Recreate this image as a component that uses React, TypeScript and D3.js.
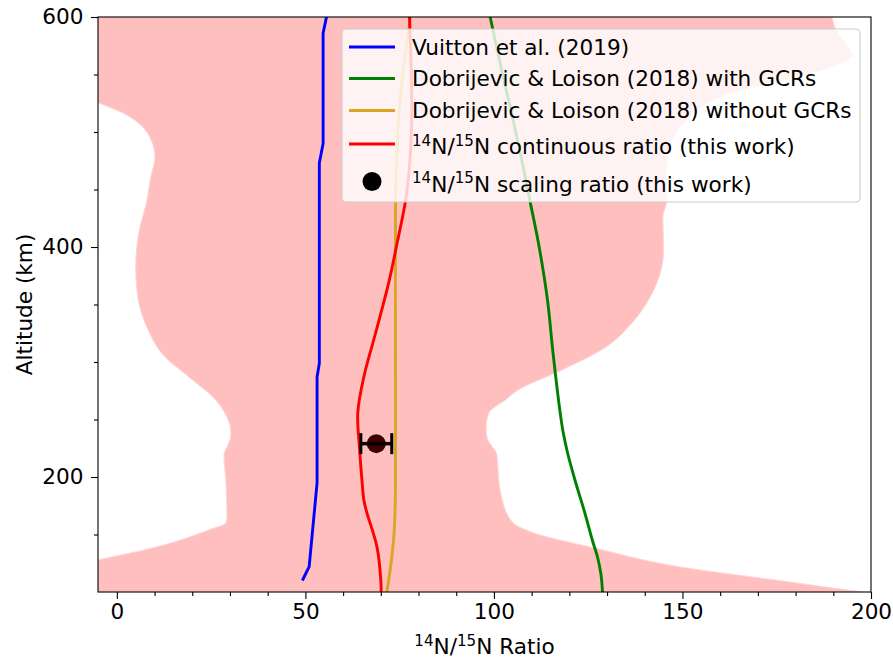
import React, { useEffect, useRef } from "react";
import * as d3 from "d3";

// Vuitton et al. (2019)
const vuittonAlt = [600, 586, 490, 473, 299, 287, 195, 122, 110];
const vuittonRatio = [55.6, 54.7, 54.7, 53.7, 53.7, 53.1, 53.1, 51.0, 49.2];

// Dobrijevic & Loison (2018) with GCRs
const gcrAlt = [600, 550, 516, 480, 441, 400, 354, 310, 284, 260, 240, 220, 195, 170, 145, 130, 115, 100];
const gcrRatio = [99, 102.3, 104.7, 107.1, 109.5, 112, 114.2, 115.6, 116.5, 117.4, 118.3, 119.6, 121.7, 124, 126.1, 127.5, 128.4, 128.8];

// Dobrijevic & Loison (2018) without GCRs
const noGcrAlt = [600, 570, 540, 510, 470, 436, 300, 200, 180, 150, 130, 115, 100];
const noGcrRatio = [77.9, 76.6, 75.5, 74.7, 74.1, 73.9, 73.9, 73.9, 73.85, 73.5, 72.9, 72.3, 71.6];

// continuous ratio (this work)
const contAlt = [600, 550, 510, 470, 441, 403, 369, 325, 287, 256, 223, 197, 180, 169, 139, 110, 100];
const contRatio = [77.6, 78.1, 78.2, 77.6, 76.6, 74.3, 72.1, 68.6, 65.5, 63.9, 64.4, 65, 65.5, 66.3, 69, 70, 70.1];

// uncertainty envelope
const lowAlt = [600, 560, 540, 526, 517, 497, 478, 461, 441, 412, 383, 360, 330, 304, 287, 267, 252, 241, 236, 228, 219, 197, 165, 160, 154, 139, 128, 100];
const lowRatio = [-40, -25, -14, -5.3, 1.3, 8.5, 10.1, 9, 8, 5.8, 5, 5.4, 8, 12.9, 19.1, 26.2, 29.2, 30.2, 30.2, 29.5, 28.4, 28.9, 29.2, 28.9, 24.4, 10.3, -4.8, -40];
const highAlt = [600, 589, 578, 567, 557, 545, 534, 522, 510, 484, 458, 441, 426, 397, 360, 334, 313, 293, 276, 267, 256, 243.5, 234, 219, 197, 184, 161, 152, 138, 122, 110, 100];
const highRatio = [189.7, 190.7, 193, 195, 189.7, 177, 163, 155, 151, 146.4, 145.6, 145.9, 144.8, 145, 142, 136.6, 129.7, 118, 106.6, 103, 98.7, 97.9, 98.2, 100.8, 101.3, 101.9, 104.8, 110, 127, 149, 175.6, 197.6];

// scaling ratio (this work)
const scalingAlt = [229];
const scalingRatio = [68.8];
const scalingErr = [4.1];

const xTicks = [0, 50, 100, 150, 200];
const yTicks = [200, 400, 600];

const legendLabels = [
  "Vuitton et al. (2019)",
  "Dobrijevic & Loison (2018) with GCRs",
  "Dobrijevic & Loison (2018) without GCRs",
  "continuous ratio (this work)",
  "scaling ratio (this work)",
];

const FONT = "DejaVu Sans, sans-serif";
const FS = 21.6;

function isoText(sel: any, rest: string, fs: number) {
  sel.append("tspan").attr("font-size", fs * 0.7).attr("dy", -fs * 0.38).text("14");
  sel.append("tspan").attr("font-size", fs).attr("dy", fs * 0.38).text("N/");
  sel.append("tspan").attr("font-size", fs * 0.7).attr("dy", -fs * 0.38).text("15");
  sel.append("tspan").attr("font-size", fs).attr("dy", fs * 0.38).text("N" + rest);
}

export default function App() {
  const svgRef = useRef<SVGSVGElement>(null);

  useEffect(() => {
    const width = 893;
    const height = 658;
    const margin = { top: 17, right: 22, bottom: 66, left: 98 };

    const svg = d3.select(svgRef.current);
    svg.selectAll("*").remove();
    svg.attr("width", width).attr("height", height);

    const x = d3.scaleLinear().domain([-5, 200]).range([margin.left, width - margin.right]);
    const y = d3.scaleLinear().domain([100, 600]).range([height - margin.bottom, margin.top]);

    svg.append("clipPath").attr("id", "plotclip")
      .append("rect")
      .attr("x", margin.left).attr("y", margin.top)
      .attr("width", width - margin.left - margin.right)
      .attr("height", height - margin.top - margin.bottom);

    const plot = svg.append("g").attr("clip-path", "url(#plotclip)");

    // envelope
    const low = lowAlt.map((a, i) => [lowRatio[i], a]);
    const high = highAlt.map((a, i) => [highRatio[i], a]).reverse();
    const edge = d3.line<number[]>()
      .x(d => x(d[0])).y(d => y(d[1]))
      .curve(d3.curveMonotoneY);
    const p1 = edge(low) as string;
    const p2 = (edge(high) as string).replace(/^M/, "L");
    plot.append("path")
      .attr("d", p1 + p2 + "Z")
      .attr("fill", "rgb(255,191,191)")
      .attr("stroke", "#ffd6d6")
      .attr("stroke-width", 1);

    const series = [
      { alt: vuittonAlt, val: vuittonRatio, color: "#0000ff", curve: d3.curveLinear },
      { alt: gcrAlt, val: gcrRatio, color: "#008000", curve: d3.curveCatmullRom },
      { alt: noGcrAlt, val: noGcrRatio, color: "#daa520", curve: d3.curveCatmullRom },
      { alt: contAlt, val: contRatio, color: "#ff0000", curve: d3.curveCatmullRom },
    ];

    series.forEach(s => {
      const pts = s.alt.map((a, i) => [s.val[i], a]);
      const line = d3.line<number[]>().x(d => x(d[0])).y(d => y(d[1])).curve(s.curve);
      plot.append("path")
        .attr("d", line(pts) as string)
        .attr("fill", "none")
        .attr("stroke", s.color)
        .attr("stroke-width", 2.9)
        .attr("stroke-linejoin", "round");
    });

    // scaling point with error bar
    scalingAlt.forEach((a, i) => {
      const cx = x(scalingRatio[i]);
      const cy = y(a);
      const xl = x(scalingRatio[i] - scalingErr[i]);
      const xr = x(scalingRatio[i] + scalingErr[i]);
      plot.append("circle").attr("cx", cx).attr("cy", cy).attr("r", 9.5).attr("fill", "#3f0000");
      plot.append("line").attr("x1", xl).attr("x2", xr).attr("y1", cy).attr("y2", cy)
        .attr("stroke", "black").attr("stroke-width", 3.5);
      [xl, xr].forEach(cxx => {
        plot.append("line").attr("x1", cxx).attr("x2", cxx).attr("y1", cy - 10.5).attr("y2", cy + 10.5)
          .attr("stroke", "black").attr("stroke-width", 3);
      });
    });

    // axes
    const xAxis = svg.append("g")
      .attr("transform", `translate(0, ${height - margin.bottom})`)
      .call(d3.axisBottom(x).tickValues(xTicks).tickSize(7).tickPadding(4.5).tickFormat(d3.format("d")));
    const xMinor = svg.append("g")
      .attr("transform", `translate(0, ${height - margin.bottom})`)
      .call(d3.axisBottom(x).tickValues(d3.range(10, 200, 10).filter(v => v % 50 !== 0)).tickSize(4).tickFormat(() => ""));
    const yAxis = svg.append("g")
      .attr("transform", `translate(${margin.left}, 0)`)
      .call(d3.axisLeft(y).tickValues(yTicks).tickSize(7).tickPadding(7.5).tickFormat(d3.format("d")));
    const yMinor = svg.append("g")
      .attr("transform", `translate(${margin.left}, 0)`)
      .call(d3.axisLeft(y).tickValues([150, 250, 300, 350, 450, 500, 550]).tickSize(4).tickFormat(() => ""));

    [xAxis, xMinor, yAxis, yMinor].forEach(g => {
      g.select(".domain").remove();
      g.selectAll("line").attr("stroke", "black").attr("stroke-width", 1.1);
      g.selectAll("text").attr("font-family", FONT).attr("font-size", FS).attr("fill", "black");
    });

    svg.append("rect")
      .attr("x", margin.left).attr("y", margin.top)
      .attr("width", width - margin.left - margin.right)
      .attr("height", height - margin.top - margin.bottom)
      .attr("fill", "none").attr("stroke", "black").attr("stroke-width", 1.1);

    // axis labels
    const xl = svg.append("text")
      .attr("x", (margin.left + width - margin.right) / 2)
      .attr("y", 654)
      .attr("text-anchor", "middle")
      .attr("font-family", FONT).attr("font-size", FS);
    isoText(xl, " Ratio", FS);

    svg.append("text")
      .attr("transform", `translate(32, ${(margin.top + height - margin.bottom) / 2}) rotate(-90)`)
      .attr("text-anchor", "middle")
      .attr("font-family", FONT).attr("font-size", FS)
      .text("Altitude (km)");

    // legend
    const lg = svg.append("g");
    lg.append("rect")
      .attr("x", 342).attr("y", 29).attr("width", 518).attr("height", 173).attr("rx", 4)
      .attr("fill", "white").attr("fill-opacity", 0.8)
      .attr("stroke", "#cccccc").attr("stroke-width", 1.1);
    const rows = [47, 78.5, 110.5, 144, 181.5];
    const colors = ["#0000ff", "#008000", "#daa520", "#ff0000"];
    legendLabels.forEach((lab, i) => {
      const ry = rows[i];
      if (i < 4) {
        lg.append("line").attr("x1", 349).attr("x2", 395).attr("y1", ry).attr("y2", ry)
          .attr("stroke", colors[i]).attr("stroke-width", 2.9);
      } else {
        lg.append("circle").attr("cx", 372).attr("cy", ry).attr("r", 9.5).attr("fill", "black");
      }
      const t = lg.append("text")
        .attr("x", 412)
        .attr("y", ry + (i < 3 ? 7.5 : 10))
        .attr("font-family", FONT).attr("font-size", FS).attr("fill", "black");
      if (i < 3) t.text(lab);
      else isoText(t, " " + lab, FS);
    });
  }, []);

  return <svg ref={svgRef} style={{ position: "absolute", left: 0, top: 0 }} />;
}
